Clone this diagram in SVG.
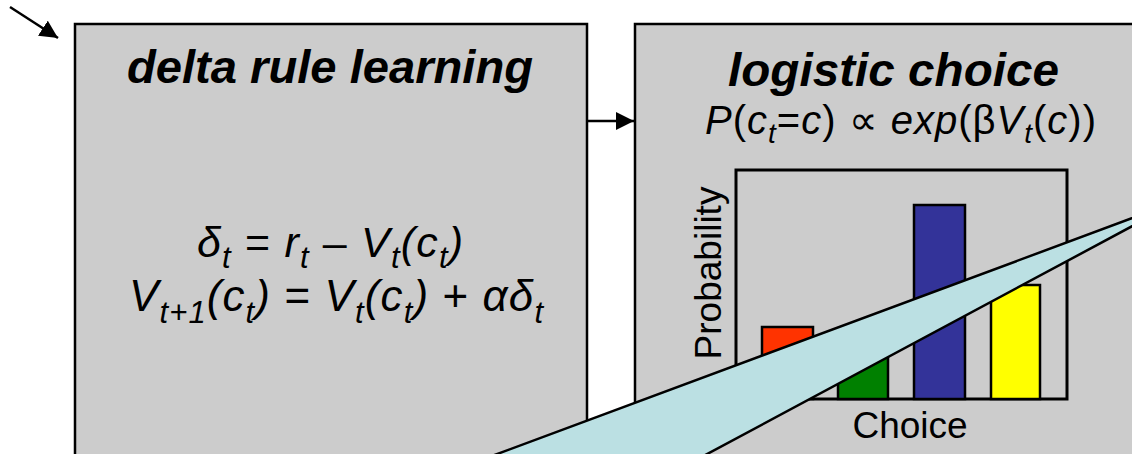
<svg xmlns="http://www.w3.org/2000/svg" width="1132" height="454" viewBox="0 0 1132 454">
<style>
.box{fill:#cccccc;stroke:#000;stroke-width:2.5}
.title{font-family:"Liberation Sans",Arial,sans-serif;font-weight:bold;font-style:italic;font-size:47px;fill:#000}
.math{font-family:"Liberation Sans",Arial,sans-serif;font-style:italic;fill:#000}
.up{font-style:normal}
.lbl{font-family:"Liberation Sans",Arial,sans-serif;font-size:37px;fill:#000}
.bar{stroke:#000;stroke-width:2.5}
.conn{stroke:#000;stroke-width:2.5;fill:none}
</style>
<defs>
<marker id="ah2" viewBox="0 0 10 10" refX="10" refY="5" markerWidth="18" markerHeight="18" orient="auto" markerUnits="userSpaceOnUse">
<path d="M0,0 L10,5 L0,10 Z" fill="#000"/>
</marker>
</defs>
<rect width="1132" height="454" fill="#fff"/>
<g id="delta-rule">
<rect class="box" x="75" y="24" width="512" height="450"/>
<text class="title" x="127" y="83" textLength="406" lengthAdjust="spacingAndGlyphs">delta rule learning</text>
<text class="math" font-size="43" x="197" y="257" textLength="266">δ<tspan font-size="31" dy="11">t</tspan><tspan dy="-11" class="up"> = </tspan>r<tspan font-size="31" dy="11">t</tspan><tspan dy="-11" class="up"> – </tspan>V<tspan font-size="31" dy="11">t</tspan><tspan dy="-11">(c</tspan><tspan font-size="31" dy="11">t</tspan><tspan dy="-11">)</tspan></text>
<text class="math" font-size="44" x="129" y="311" textLength="414">V<tspan font-size="31" dy="12">t+1</tspan><tspan dy="-12">(c</tspan><tspan font-size="31" dy="12">t</tspan><tspan dy="-12">)</tspan><tspan class="up"> = </tspan>V<tspan font-size="31" dy="12">t</tspan><tspan dy="-12">(c</tspan><tspan font-size="31" dy="12">t</tspan><tspan dy="-12">)</tspan><tspan class="up"> + </tspan>αδ<tspan font-size="31" dy="12">t</tspan></text>
</g>
<g id="logistic-choice">
<rect class="box" x="635" y="24" width="520" height="450"/>
<text class="title" x="728" y="86" textLength="331" lengthAdjust="spacingAndGlyphs">logistic choice</text>
<text class="math" font-size="40" x="705" y="134" textLength="391">P<tspan class="up">(</tspan>c<tspan font-size="28" dy="9">t</tspan><tspan dy="-9" class="up">=</tspan>c<tspan class="up">) ∝ </tspan>exp<tspan class="up">(β</tspan>V<tspan font-size="28" dy="9">t</tspan><tspan dy="-9" class="up">(</tspan>c<tspan class="up">))</tspan></text>
<rect x="736" y="170" width="331" height="229" fill="none" stroke="#000" stroke-width="3"/>
<rect class="bar" x="762" y="327" width="51" height="72" fill="#ff3300"/>
<rect class="bar" x="838" y="340" width="50" height="59" fill="#008000"/>
<rect class="bar" x="914" y="205" width="51" height="194" fill="#333399"/>
<rect class="bar" x="991" y="285" width="49" height="114" fill="#ffff00"/>
<text class="lbl" transform="translate(721,273) rotate(-90)" text-anchor="middle">Probability</text>
<text class="lbl" x="910" y="438" text-anchor="middle">Choice</text>
</g>
<g id="callout">
<polygon points="1181,200 481,460 696,460" fill="#bbe0e3" stroke="#000" stroke-width="2.5"/>
</g>
<g id="connectors">
<line class="conn" x1="10" y1="7" x2="58" y2="38" marker-end="url(#ah2)"/>
<line class="conn" x1="587" y1="121" x2="634" y2="121" marker-end="url(#ah2)"/>
</g>
</svg>
